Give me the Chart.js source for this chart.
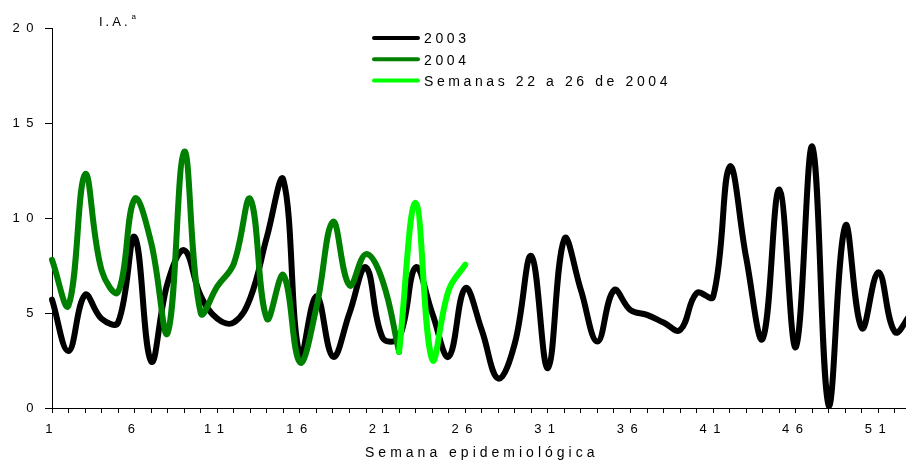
<html>
<head>
    <meta charset="utf-8">
    <title>I.A. por semana epidemiológica</title>
    <script src="https://cdn.jsdelivr.net/npm/chart.js"></script>
    <style>
        body { margin: 0; overflow: hidden; background: #fff; }
        canvas { display: block; }
    </style>
</head>
<body>
    <canvas id="iaChart" width="920" height="460"></canvas>

    <script>
        const weeks = [1, 2, 3, 4, 5, 6, 7, 8, 9, 10, 11, 12, 13, 14, 15, 16, 17, 18, 19, 20,
            21, 22, 23, 24, 25, 26, 27, 28, 29, 30, 31, 32, 33, 34, 35, 36, 37, 38, 39, 40,
            41, 42, 43, 44, 45, 46, 47, 48, 49, 50, 51, 52, 53];
        const labeledWeeks = [1, 6, 11, 16, 21, 26, 31, 36, 41, 46, 51];
        const yTicks = [0, 5, 10, 15, 20];

        const ia2003 = [5.7, 3.0, 5.95, 4.7, 4.5, 9.0, 2.45, 6.6, 8.3, 5.9,
            4.7, 4.5, 5.8, 9.0, 12.0, 2.7, 5.9, 2.7, 5.0, 7.4,
            3.7, 3.7, 7.4, 5.0, 2.7, 6.3, 4.1, 1.55, 3.4, 8.0,
            2.1, 8.9, 6.2, 3.5, 6.2, 5.15, 4.9, 4.5, 4.1, 6.05,
            5.85, 12.7, 7.9, 3.65, 11.5, 3.2, 13.75, 0.1, 9.6, 4.2,
            7.15, 4.0, 5.0];
        const ia2004 = [7.8, 5.4, 12.3, 7.25, 6.1, 11.0, 8.7, 3.95, 13.5, 5.0,
            6.4, 7.6, 11.0, 4.7, 7.0, 2.4, 5.3, 9.8, 6.45, 8.1,
            6.7, 2.95];
        const ia2004late = [null, null, null, null, null, null, null, null, null, null,
            null, null, null, null, null, null, null, null, null, null,
            null, 2.95, 10.8, 2.55, 6.2, 7.55];

        const FONT = '"Liberation Sans", Arial, sans-serif';

        // Excel-like spaced lettering for the axis texts
        const spacedText = {
            id: 'spacedText',
            beforeDraw(chart) {
                Object.values(chart.scales).forEach(scale => {
                    if (scale._spaced) return;
                    scale._spaced = true;
                    const drawLabels = scale.drawLabels;
                    const drawTitle = scale.drawTitle;
                    scale.drawLabels = function (area) {
                        this.ctx.save();
                        this.ctx.letterSpacing = '6.5px';
                        drawLabels.call(this, area);
                        this.ctx.restore();
                    };
                    scale.drawTitle = function () {
                        this.ctx.save();
                        this.ctx.letterSpacing = '4px';
                        drawTitle.call(this);
                        this.ctx.restore();
                    };
                });
            }
        };

        const legendInside = {
            id: 'legendInside',
            afterDraw(chart) {
                const ctx = chart.ctx;
                ctx.save();
                ctx.fillStyle = '#000';
                ctx.font = '14px ' + FONT;
                ctx.letterSpacing = '3.6px';
                ctx.textBaseline = 'middle';
                chart.data.datasets.forEach((ds, i) => {
                    const y = 38 + i * 21.2;
                    ctx.strokeStyle = ds.borderColor;
                    ctx.lineWidth = 4;
                    ctx.lineCap = 'round';
                    ctx.beginPath();
                    ctx.moveTo(374, y);
                    ctx.lineTo(418, y);
                    ctx.stroke();
                    ctx.fillText(ds.label, 424, y + 1.5);
                });
                // y axis caption
                ctx.textBaseline = 'alphabetic';
                ctx.font = '13px ' + FONT;
                ctx.letterSpacing = '3px';
                ctx.fillText('I.A.', 99, 26);
                ctx.font = '8px ' + FONT;
                ctx.letterSpacing = '0px';
                ctx.fillText('a', 131.5, 19);
                ctx.restore();
            }
        };

        new Chart(document.getElementById('iaChart').getContext('2d'), {
            type: 'line',
            data: {
                labels: weeks,
                datasets: [
                    { label: '2003', data: ia2003, borderColor: '#000000', order: 3 },
                    { label: '2004', data: ia2004, borderColor: '#008000', order: 2 },
                    { label: 'Semanas 22 a 26 de 2004', data: ia2004late, borderColor: '#00ff00', order: 1 }
                ]
            },
            options: {
                responsive: false,
                animation: false,
                layout: { padding: { top: 28, right: 7, left: 0, bottom: 0 } },
                elements: {
                    point: { radius: 0 },
                    line: { tension: 0.4, borderWidth: 6, borderCapStyle: 'round', borderJoinStyle: 'round', fill: false }
                },
                plugins: {
                    legend: { display: false },
                    tooltip: { enabled: false }
                },
                scales: {
                    x: {
                        grid: { drawOnChartArea: false, drawTicks: true, tickLength: 5, color: '#000', lineWidth: 1 },
                        border: { color: '#000', width: 1 },
                        ticks: {
                            autoSkip: false, maxRotation: 0, padding: 8.5, color: '#000',
                            font: { family: FONT, size: 13 },
                            callback: (v, i) => labeledWeeks.includes(weeks[i]) ? String(weeks[i]) : ''
                        },
                        title: {
                            display: true, text: 'Semana epidemiológica', color: '#000',
                            font: { family: FONT, size: 14 }, padding: { top: 0, bottom: -2 }
                        },
                        afterFit: s => { s.height = 52; }
                    },
                    y: {
                        min: 0, max: 20,
                        afterBuildTicks: s => { s.ticks = yTicks.map(v => ({ value: v })); },
                        grid: { drawOnChartArea: false, drawTicks: true, tickLength: 7, color: '#000', lineWidth: 1 },
                        border: { color: '#000', width: 1 },
                        ticks: { padding: 5, color: '#000', font: { family: FONT, size: 13 } },
                        afterFit: s => { s.width = 52; }
                    }
                }
            },
            plugins: [spacedText, legendInside]
        });
    </script>
</body>
</html>
